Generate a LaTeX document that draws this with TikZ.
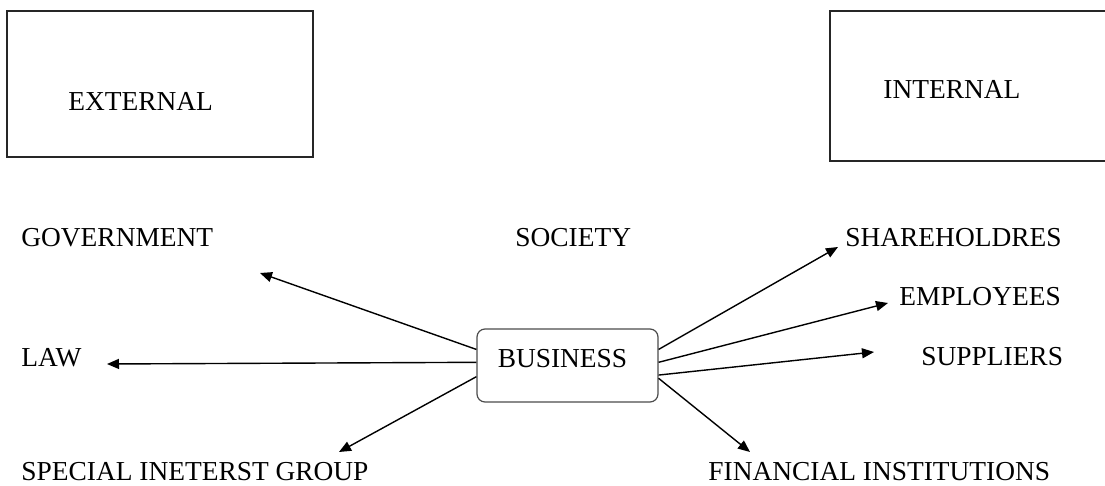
\documentclass[tikz,border=0pt]{standalone}
\usepackage{fontspec}
\setmainfont{Liberation Serif}
\usetikzlibrary{positioning,arrows.meta}

\begin{document}
\begin{tikzpicture}[
  x=0.5pt, y=-0.5pt,
  font=\fontsize{13.7}{16}\selectfont,
  sbox/.style={draw=black!85, line width=0.7pt, inner sep=0pt},
  lbl/.style={anchor=base west, inner sep=0pt},
  bbox/.style={draw=black!70, rounded corners=4pt, line width=0.6pt, minimum width=90.5pt, minimum height=36.5pt, text depth=7pt},
  barr/.style={-{Triangle[length=6pt,width=5pt]}, line width=0.7pt}
]
  \useasboundingbox (0,0) rectangle (1105,486);

  \node[sbox, minimum width=153pt, minimum height=73pt] (extbox) at (160,84) {};
  \node[lbl] (ext) at (68,111) {EXTERNAL};
  \node[sbox, minimum width=139pt, minimum height=75pt] (intbox) at (969,86) {};
  \node[lbl] (int) at (883,99) {INTERNAL};

  \node[lbl] (gov) at (21,247) {GOVERNMENT};
  \node[lbl] (soc) at (515,247) {SOCIETY};
  \node[lbl] (sha) at (845,247) {SHAREHOLDRES};
  \node[lbl] (emp) at (899,306) {EMPLOYEES};
  \node[lbl] (sup) at (921,366) {SUPPLIERS};
  \node[lbl] (law) at (21,367) {LAW};
  \node[lbl] (sig) at (21,481) {SPECIAL INETERST GROUP};
  \node[lbl] (fin) at (708,481) {FINANCIAL INSTITUTIONS};

  \node[bbox] (biz) at (567.5,365.5) {BUSINESS\kern5pt};

  \coordinate (govend) at (260,273);
  \coordinate (lawend) at (107,364);
  \coordinate (sigend) at (339,452);
  \coordinate (shaend) at (838,247);
  \coordinate (empend) at (888,303);
  \coordinate (supend) at (874,352);
  \coordinate (finend) at (750,452);

  \draw[barr] (biz.170.3) -- (govend);
  \draw[barr] (biz.178.4) -- (lawend);
  \draw[barr] (biz.187.9) -- (sigend);
  \draw[barr] (biz.10.9) -- (shaend);
  \draw[barr] (biz.2.2) -- (empend);
  \draw[barr] (biz.354) -- (supend);
  \draw[barr] (biz.352) -- (finend);
\end{tikzpicture}
\end{document}
